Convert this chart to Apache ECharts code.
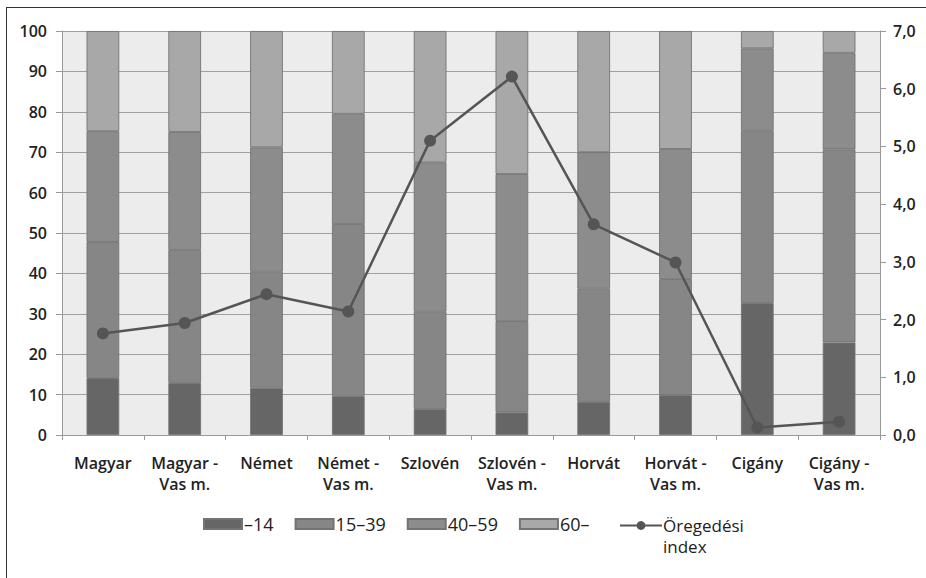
<!DOCTYPE html>
<html>
<head>
<meta charset="utf-8">
<script src="https://cdn.jsdelivr.net/npm/echarts@6/dist/echarts.min.js"></script>
<style>
html,body{margin:0;padding:0;background:#fff;}
#frame{position:absolute;left:6px;top:7px;width:940px;height:600px;border-left:1.5px solid #333;border-top:1.5px solid #333;}
#chart{position:absolute;left:0;top:0;width:926px;height:578px;}
</style>
</head>
<body>
<div id="frame"></div>
<div id="chart"></div>
<script>
const categories = ['Magyar','Magyar -\nVas m.','Német','Német -\nVas m.','Szlovén','Szlovén -\nVas m.','Horvát','Horvát -\nVas m.','Cigány','Cigány -\nVas m.'];
const age0_14 = [14.1,12.9,11.7,9.7,6.4,5.6,8.2,9.9,32.7,22.9];
const age15_39 = [33.7,32.9,28.7,42.5,24.1,22.6,28.0,28.7,42.6,47.8];
const age40_59 = [27.4,29.2,30.8,27.3,37.0,36.4,33.8,32.2,20.4,23.9];
const age60plus = [24.8,25.0,28.8,20.5,32.5,35.4,30.0,29.2,4.3,5.4];
const agingIndex = [1.76,1.94,2.44,2.14,5.10,6.21,3.65,2.99,0.13,0.23];
const leftTicks = [0,10,20,30,40,50,60,70,80,90,100];
const rightTicks = [0,1,2,3,4,5,6,7];

const font = "'Open Sans', sans-serif";
const chart = echarts.init(document.getElementById('chart'), null, {renderer:'svg'});
const barBorder = '#747474';
function barSeries(name, data, color){
  return {name, type:'bar', stack:'age', data, barWidth:'40%', yAxisIndex:0,
    itemStyle:{color, borderColor:barBorder, borderWidth:0.9}};
}
chart.setOption({
  animation:false,
  textStyle:{fontFamily:font},
  grid:{left:62, right:46, top:31, bottom:143, show:true, backgroundColor:'#ececec', borderWidth:0},
  legend:[{
    data:['–14','15–39','40–59','60–'],
    left:203, top:515, padding:0, itemWidth:38, itemHeight:10, itemGap:21,
    icon:'rect',
    textStyle:{fontFamily:font, fontSize:18, color:'#222', padding:[0,0,0,-3]}
  },{
    data:['Öregedési\nindex'],
    formatter: name => '\n' + name,
    left:619, top:494, padding:0, itemWidth:42, itemHeight:11,
    textStyle:{fontFamily:font, fontSize:17, color:'#222', lineHeight:21, padding:[0,0,0,-4]}
  }],
  xAxis:{type:'category', data:categories,
    axisLine:{lineStyle:{color:'#999'}},
    axisTick:{show:true, length:5, lineStyle:{color:'#999'}},
    axisLabel:{fontFamily:font, fontSize:16, fontWeight:600, color:'#222', lineHeight:21, margin:17, interval:0}
  },
  yAxis:[{type:'value', min:0, max:100, interval:10, position:'left',
    axisLine:{show:true, lineStyle:{color:'#999'}},
    axisTick:{show:true, length:6, lineStyle:{color:'#999'}},
    splitLine:{lineStyle:{color:'#a0a0a0', width:1.2}},
    axisLabel:{fontFamily:font, fontSize:16, fontWeight:600, color:'#222', margin:15,
      formatter:v=>leftTicks.includes(v)?String(v):''}
  },{type:'value', min:0, max:7, interval:1, position:'right',
    axisLine:{show:true, lineStyle:{color:'#999'}},
    axisTick:{show:true, length:6, lineStyle:{color:'#999'}},
    splitLine:{show:false},
    axisLabel:{fontFamily:font, fontSize:16, fontWeight:600, color:'#222', margin:13,
      formatter:v=>rightTicks.includes(v)?v.toFixed(1).replace('.',','):''}
  }],
  series:[
    barSeries('–14', age0_14, '#666666'),
    barSeries('15–39', age15_39, '#868686'),
    barSeries('40–59', age40_59, '#8c8c8c'),
    barSeries('60–', age60plus, '#a8a8a8'),
    {name:'Öregedési\nindex', type:'line', yAxisIndex:1, data:agingIndex,
      symbol:'circle', symbolSize:12,
      lineStyle:{color:'#555', width:2.5},
      itemStyle:{color:'#555'}}
  ]
});
</script>
</body>
</html>
